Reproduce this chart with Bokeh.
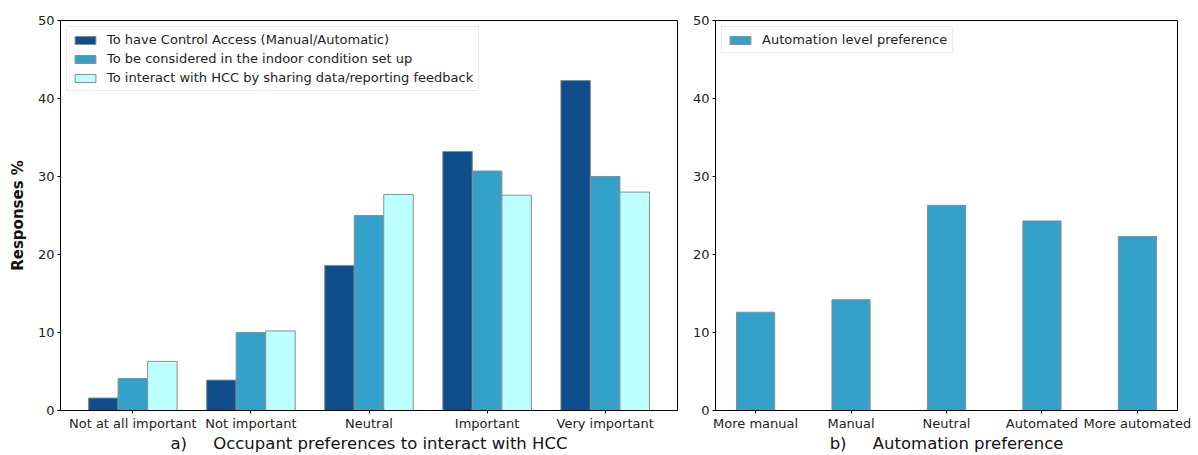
from bokeh.plotting import figure
from bokeh.layouts import row
from bokeh.models import FixedTicker, Range1d, ColumnDataSource, Legend, LegendItem
from bokeh.embed import file_html
from bokeh.resources import INLINE

# ---------------- data ----------------
importance = ["Not at all important", "Not important", "Neutral", "Important", "Very important"]
control_access = [1.6, 3.9, 18.6, 33.2, 42.3]
considered = [4.1, 10.0, 25.0, 30.7, 30.0]
interact = [6.3, 10.2, 27.7, 27.6, 28.0]
series_names = [
    "To have Control Access (Manual/Automatic)",
    "To be considered in the indoor condition set up",
    "To interact with HCC by sharing data/reporting feedback",
]

automation = ["More manual", "Manual", "Neutral", "Automated", "More automated"]
automation_pref = [12.6, 14.2, 26.3, 24.3, 22.3]
automation_name = "Automation level preference"

y_ticks = [0, 10, 20, 30, 40, 50]
xlabel_a = "a)\u00a0\u00a0\u00a0\u00a0 Occupant preferences to interact with HCC"
xlabel_b = "b)\u00a0\u00a0\u00a0\u00a0 Automation preference"
ylabel = "Responses %"

# ---------------- style ----------------
FONT = "DejaVu Sans"
C_DARK = "#104E8B"
C_MID = "#33A1C9"
C_LIGHT = "#BBFFFF"
EDGE = "#8c8c8c"


def style(p, labels):
    p.grid.visible = False
    p.outline_line_color = "#000000"
    p.outline_line_width = 1
    p.y_range = Range1d(0, 50)
    p.yaxis.ticker = FixedTicker(ticks=y_ticks)
    p.xaxis.ticker = FixedTicker(ticks=list(range(len(labels))))
    p.xaxis.major_label_overrides = {i: lab for i, lab in enumerate(labels)}
    for ax in (p.xaxis[0], p.yaxis[0]):
        ax.axis_line_color = "#000000"
        ax.major_tick_line_color = "#000000"
        ax.major_tick_out = 3
        ax.major_tick_in = 0
        ax.minor_tick_line_color = None
        ax.major_label_text_font = FONT
        ax.major_label_text_font_size = "13px"
        ax.major_label_text_color = "#222222"
        ax.axis_label_text_font = FONT
        ax.axis_label_text_color = "#111111"
    p.xaxis.major_label_standoff = 2
    p.yaxis.major_label_standoff = 3
    p.xaxis.axis_label_text_font_size = "16.5px"
    p.xaxis.axis_label_text_font_style = "normal"
    p.xaxis.axis_label_standoff = 0


def style_legend(lg):
    lg.label_text_font = FONT
    lg.label_text_font_size = "13px"
    lg.label_text_color = "#222222"
    lg.glyph_width = 26
    lg.glyph_height = 10
    lg.label_height = 15
    lg.spacing = 4
    lg.padding = 5
    lg.margin = 6
    lg.border_line_color = "#d6d6d6"
    lg.border_line_width = 1
    lg.background_fill_alpha = 0.9
    lg.label_standoff = 9


# ---------------- left figure ----------------
p1 = figure(width=680, height=455, output_backend="svg", toolbar_location=None,
            min_border_left=60, min_border_right=3, min_border_top=20, min_border_bottom=45,
            x_range=Range1d(-0.6125, 4.6125))
style(p1, importance)
p1.xaxis.axis_label = xlabel_a
p1.yaxis.axis_label = ylabel
p1.yaxis.axis_label_text_font_size = "15px"
p1.yaxis.axis_label_text_font_style = "bold"
p1.yaxis.axis_label_standoff = 8

idx = list(range(len(importance)))
items = []
for vals, col, off, name in zip([control_access, considered, interact],
                                [C_DARK, C_MID, C_LIGHT], [-0.25, 0.0, 0.25], series_names):
    src = ColumnDataSource(dict(x=[i + off for i in idx], top=vals))
    r = p1.vbar(x="x", top="top", width=0.25, bottom=0, source=src,
                fill_color=col, line_color=EDGE, line_width=1)
    items.append(LegendItem(label=name, renderers=[r]))
lg1 = Legend(items=items, location="top_left")
style_legend(lg1)
p1.add_layout(lg1)

# ---------------- right figure ----------------
p2 = figure(width=512, height=455, output_backend="svg", toolbar_location=None,
            min_border_left=35, min_border_right=15, min_border_top=20, min_border_bottom=45,
            x_range=Range1d(-0.42, 4.42))
style(p2, automation)
p2.xaxis.axis_label = xlabel_b
src2 = ColumnDataSource(dict(x=list(range(len(automation))), top=automation_pref))
r2 = p2.vbar(x="x", top="top", width=0.4, bottom=0, source=src2,
             fill_color=C_MID, line_color=EDGE, line_width=1)
lg2 = Legend(items=[LegendItem(label=automation_name, renderers=[r2])], location="top_left")
style_legend(lg2)
p2.add_layout(lg2)

layout = row(p1, p2)
open("out.html", "w").write(file_html(layout, INLINE))
